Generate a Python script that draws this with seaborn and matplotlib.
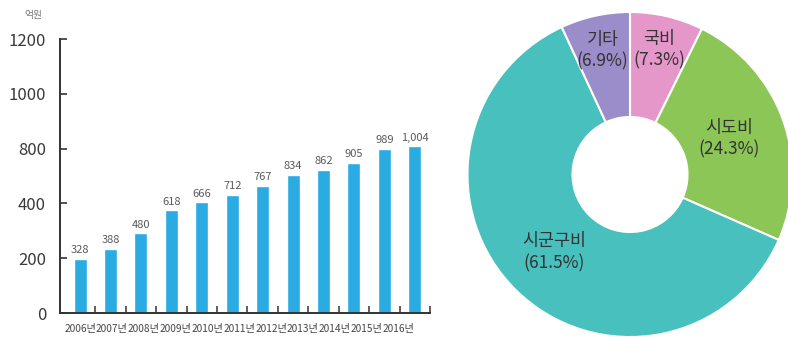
import numpy as np
import pandas as pd
import matplotlib
matplotlib.use("Agg")
import matplotlib.pyplot as plt
import seaborn as sns

# ---------------- data ----------------
bar_values = [328, 388, 480, 618, 666, 712, 767, 834, 862, 905, 989, 1004]
bar_value_labels = ["328", "388", "480", "618", "666", "712", "767", "834",
                    "862", "905", "989", "1,004"]
year_labels = ["2006년", "2007년", "2008년", "2009년", "2010년", "2011년",
               "2012년", "2013년", "2014년", "2015년", "2016년"]
ytick_labels = ["0", "200", "400", "800", "1000", "1200"]
unit_label = "억원"

pie_names = ["국비", "시도비", "시군구비", "기타"]
pie_shares = [7.3, 24.3, 61.5, 6.9]

# ---------------- style ----------------
sns.set_style("white")
plt.rcParams["font.family"] = ["Noto Sans CJK KR", "DejaVu Sans"]

bar_color = "#2AABE2"
pie_colors = ["#E597C9", "#8CC657", "#47C0BE", "#9B8DC9"]
dark = "#333333"

fig = plt.figure(figsize=(7.88, 3.44), dpi=100)

# ---------------- bar chart ----------------
ax = fig.add_axes([60 / 788, 31 / 344, 370 / 788, 274 / 344])
df = pd.DataFrame({"pos": np.arange(len(bar_values)), "value": bar_values})
sns.barplot(data=df, x="pos", y="value", color=bar_color, width=0.43,
            saturation=1, ax=ax)
ax.bar_label(ax.containers[0], labels=bar_value_labels, padding=2.5,
             fontsize=8, color="#5a5a5a")

tick_step = 330
ax.set_ylim(0, tick_step * (len(ytick_labels) - 1))
ax.set_yticks(np.arange(len(ytick_labels)) * tick_step)
ax.set_yticklabels(ytick_labels)
ax.set_xlim(-0.66, len(bar_values) - 0.5)

# boundary tick marks (no labels) and year labels as minor ticks
ax.set_xticks(np.arange(len(bar_values)) + 0.5)
ax.set_xticklabels([])
ax.set_xticks(np.arange(len(year_labels)) * 1.046, minor=True)
ax.set_xticklabels(year_labels, minor=True)
ax.tick_params(axis="x", which="both", bottom=True)
ax.tick_params(axis="y", which="both", left=True)
ax.tick_params(axis="x", which="major", direction="in", length=5,
               width=1.1, color=dark)
ax.tick_params(axis="x", which="minor", length=0, pad=8, labelsize=7.3,
               labelcolor="#444444")
ax.tick_params(axis="y", direction="in", length=5, width=1.2, color=dark,
               pad=10, labelsize=12, labelcolor="#3a3a3a")
ax.set_xlabel("")
ax.set_ylabel("")
for side in ["top", "right"]:
    ax.spines[side].set_visible(False)
for side in ["left", "bottom"]:
    ax.spines[side].set_color(dark)
    ax.spines[side].set_linewidth(1.4)

fig.text(33 / 788, 1 - 15 / 344, unit_label, fontsize=7, color="#777777",
         ha="center", va="center")

# ---------------- donut chart ----------------
pax = fig.add_axes([(630 - 162.5) / 788, 7 / 344, 325 / 788, 325 / 344])
wedges, _ = pax.pie(pie_shares, colors=pie_colors, startangle=90,
                    counterclock=False, radius=1,
                    wedgeprops=dict(width=0.646, edgecolor="white",
                                    linewidth=1.5))
pax.set_xlim(-1, 1)
pax.set_ylim(-1, 1)
pax.set_aspect("equal")
pax.axis("off")

label_radii = [0.79, 0.65, 0.67, 0.78]
for w, name, share, r in zip(wedges, pie_names, pie_shares, label_radii):
    ang = np.deg2rad((w.theta1 + w.theta2) / 2)
    pax.text(r * np.cos(ang), r * np.sin(ang), f"{name}\n({share}%)",
             ha="center", va="center", fontsize=12.5, color=dark,
             linespacing=1.25)

fig.savefig("out.png", dpi=100)
